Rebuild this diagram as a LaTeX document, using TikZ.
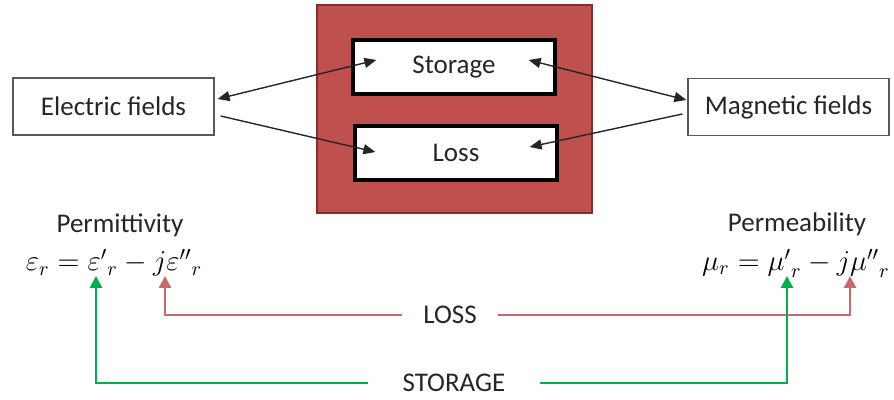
\documentclass[tikz,border=0pt]{standalone}
\usepackage{fontspec}
\setmainfont{Carlito}
\usetikzlibrary{arrows.meta}
\definecolor{brick}{HTML}{C0504D}
\definecolor{brickdark}{HTML}{7F2F2C}
\definecolor{leaf}{HTML}{00B050}
\def\ink{black!85}

\begin{document}
\begin{tikzpicture}[x=0.5pt,y=-0.5pt,font=\fontsize{13.5}{15}\selectfont,text=\ink]
  \tikzstyle{field}=[draw=black!65,line width=0.6pt,minimum width=100.5pt,minimum height=28.5pt,inner sep=0pt]
  \tikzstyle{part}=[draw=black,fill=white,line width=1.6pt,minimum width=101pt,minimum height=27pt,inner sep=0pt]
  \tikzstyle{case}=[draw=brickdark,fill=brick,line width=0.8pt,minimum width=137.5pt,minimum height=104pt]
  \tikzstyle{link}=[draw=black!85,line width=0.7pt,-{Triangle[width=5pt,length=6pt]}]
  \tikzstyle{both}=[link,{Triangle[width=5pt,length=6pt]}-{Triangle[width=5pt,length=6pt]}]
  \tikzstyle{lossline}=[draw=brick!85,line width=1.4pt,-{Triangle[width=6pt,length=6pt]}]
  \tikzstyle{storeline}=[draw=leaf,line width=1.4pt,-{Triangle[width=6pt,length=6pt]}]
  \tikzstyle{lbl}=[inner sep=0pt,minimum height=14pt]
  \tikzstyle{eq}=[inner sep=0pt,text=black,font=\fontsize{14.5}{16}\selectfont]

  \useasboundingbox (0,0) rectangle (894,400);

  % boxes
  \node[case] (case) at (454.5,109) {};
  \node[part] (storage) at (454,67) {Storage};
  \node[part] (loss) at (456,153) {Loss};
  \node[field] (efield) at (113.5,106.5) {Electric fields};
  \node[field] (mfield) at (788.5,107) {Magnetic fields};

  % links
  \draw[both] ([xshift=1.5pt,yshift=3.75pt]efield.east) -- ([xshift=12.5pt,yshift=3.5pt]storage.west);
  \draw[link] ([xshift=3pt,yshift=-4.75pt]efield.east) -- ([xshift=11pt,yshift=0.5pt]loss.west);
  \draw[both] ([xshift=-0.5pt,yshift=3.5pt]mfield.west) -- ([xshift=-14pt,yshift=3.5pt]storage.east);
  \draw[link] ([xshift=-2.5pt,yshift=-3.5pt]mfield.west) -- ([xshift=-14.5pt,yshift=3pt]loss.east);

  % material parameters
  \node[inner sep=0pt] (perm) at (120,225) {Permittivity};
  \node[eq] (epseq) at (114,263) {$\varepsilon_r={\varepsilon'}_r-j{\varepsilon''}_r$};
  \node[inner sep=0pt] (mag) at (797,224) {Permeability};
  \node[eq] (mueq) at (796,263) {$\mu_r={\mu'}_r-j{\mu''}_r$};

  \coordinate (epsre) at (96,276);
  \coordinate (epsim) at (165,276);
  \coordinate (mure) at (787,276);
  \coordinate (muim) at (850,276);

  \node[lbl,minimum width=48pt] (losslbl) at (450,315) {LOSS};
  \node[lbl,minimum width=86pt] (storelbl) at (454,383) {STORAGE};

  \draw[lossline] (losslbl.west) -| (epsim);
  \draw[lossline] (losslbl.east) -| (muim);
  \draw[storeline] (storelbl.west) -| (epsre);
  \draw[storeline] (storelbl.east) -| (mure);

\end{tikzpicture}
\end{document}
